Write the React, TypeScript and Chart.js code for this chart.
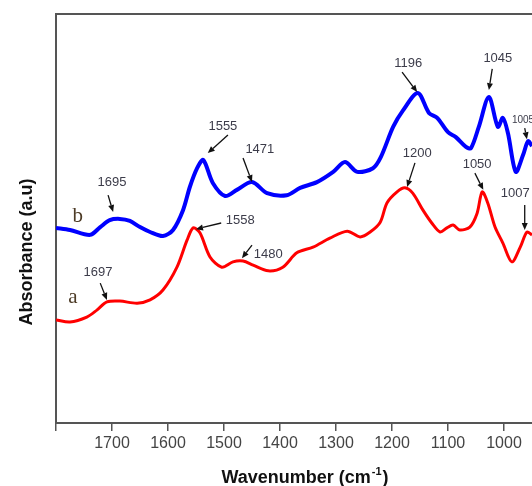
import React, { useEffect, useRef } from "react";
import { Chart, registerables } from "chart.js";

Chart.register(...registerables);

// Curve b (blue)
const curveBWavenumber = [1800, 1775, 1739, 1721, 1704, 1686, 1668, 1650, 1632, 1609, 1591, 1573, 1561, 1548, 1537, 1520, 1498, 1477, 1450, 1423, 1388, 1364, 1334, 1305, 1284, 1262, 1234, 1220, 1198, 1180, 1154, 1134, 1121, 1116, 1100, 1086, 1068, 1059, 1045, 1027, 1011, 1002, 993, 979, 966, 957, 950];
const curveBAbsorbance = [47.7, 47.2, 46.0, 47.9, 49.6, 49.9, 49.4, 47.9, 46.7, 45.7, 47.2, 52.1, 57.7, 62.3, 64.3, 58.7, 55.5, 57.0, 58.9, 56.2, 55.7, 57.5, 58.9, 61.4, 63.8, 61.4, 62.3, 65.0, 72.4, 76.5, 80.7, 75.8, 74.8, 74.1, 71.1, 69.9, 67.5, 67.2, 72.4, 79.7, 72.4, 74.6, 70.9, 61.4, 65.5, 68.9, 67.7];

// Curve a (red)
const curveAWavenumber = [1800, 1775, 1745, 1727, 1709, 1686, 1655, 1632, 1609, 1584, 1566, 1555, 1543, 1525, 1504, 1484, 1466, 1448, 1421, 1395, 1370, 1341, 1311, 1280, 1257, 1239, 1221, 1209, 1191, 1177, 1163, 1145, 1129, 1114, 1102, 1091, 1079, 1061, 1048, 1039, 1029, 1016, 1002, 986, 971, 959, 950];
const curveAAbsorbance = [25.2, 24.7, 25.9, 27.6, 29.6, 29.8, 29.3, 30.1, 32.5, 38.1, 44.7, 47.7, 46.5, 40.6, 38.1, 39.4, 39.6, 38.6, 37.2, 38.1, 41.6, 43.0, 45.2, 46.9, 45.5, 46.7, 49.1, 53.8, 56.5, 57.5, 56.2, 52.1, 48.9, 46.7, 47.7, 48.4, 47.2, 47.9, 51.3, 56.5, 53.8, 47.9, 44.0, 39.4, 43.0, 46.7, 46.0];

const xTickValues = [1000, 1100, 1200, 1300, 1400, 1500, 1600, 1700, 1800];
const xTickLabelsHidden = [1800];

// Peak annotations (data coordinates: wavenumber, absorbance)
const peakLabels = ["1695", "1555", "1471", "1196", "1045", "1005", "1697", "1558", "1480", "1200", "1050", "1007"];
const peakLabelX = [1700, 1502, 1436, 1171, 1011, 966, 1725, 1471, 1421, 1155, 1048, 980];
const peakLabelY = [58.7, 72.6, 67.0, 87.8, 89.2, 74.1, 36.7, 49.6, 41.3, 66.0, 63.1, 56.2];
const arrowFromX = [1707, 1493, 1466, 1182, 1021, 963, 1721, 1505, 1450, 1159, 1052, 963];
const arrowFromY = [55.7, 70.4, 64.8, 85.8, 86.6, 72.1, 34.2, 48.9, 43.5, 63.6, 61.1, 53.3];
const arrowToX = [1698, 1529, 1450, 1155, 1027, 959, 1709, 1550, 1468, 1173, 1037, 963];
const arrowToY = [51.6, 66.0, 58.9, 80.9, 81.4, 69.4, 30.1, 47.4, 40.3, 57.7, 57.0, 47.2];
const peakLabelSize = [13, 13, 13, 13, 13, 10, 13, 13, 13, 13, 13, 13];

const seriesNames = ["b", "a"];
const seriesNameX = [1761, 1770];
const seriesNameY = [50.4, 30.6];

const SANS = "'Liberation Sans', Arial, sans-serif";

function drawArrow(ctx: CanvasRenderingContext2D, x1: number, y1: number, x2: number, y2: number) {
  const ang = Math.atan2(y2 - y1, x2 - x1);
  const head = 7;
  const half = 3;
  const bx = x2 - head * Math.cos(ang);
  const by = y2 - head * Math.sin(ang);
  ctx.beginPath();
  ctx.moveTo(x1, y1);
  ctx.lineTo(bx, by);
  ctx.stroke();
  ctx.beginPath();
  ctx.moveTo(x2, y2);
  ctx.lineTo(bx + half * Math.sin(ang), by - half * Math.cos(ang));
  ctx.lineTo(bx - half * Math.sin(ang), by + half * Math.cos(ang));
  ctx.closePath();
  ctx.fill();
}

const overlayPlugin = {
  id: "overlay",
  beforeDraw(chart: any) {
    const ctx = chart.ctx;
    ctx.save();
    ctx.fillStyle = "#ffffff";
    ctx.fillRect(0, 0, chart.width, chart.height);
    ctx.restore();
  },
  afterDraw(chart: any) {
    const { ctx, chartArea } = chart;
    const xs = chart.scales.x;
    const ys = chart.scales.y;
    ctx.save();
    // top frame line
    ctx.strokeStyle = "#555";
    ctx.lineWidth = 2;
    ctx.beginPath();
    ctx.moveTo(chartArea.left - 1, chartArea.top);
    ctx.lineTo(chartArea.right, chartArea.top);
    ctx.stroke();

    // peak labels & arrows
    ctx.strokeStyle = "#111";
    ctx.fillStyle = "#111";
    ctx.lineWidth = 1.3;
    for (let i = 0; i < peakLabels.length; i++) {
      drawArrow(
        ctx,
        xs.getPixelForValue(arrowFromX[i]),
        ys.getPixelForValue(arrowFromY[i]),
        xs.getPixelForValue(arrowToX[i]),
        ys.getPixelForValue(arrowToY[i])
      );
    }
    ctx.fillStyle = "#3c3c4a";
    ctx.textAlign = "center";
    ctx.textBaseline = "middle";
    for (let i = 0; i < peakLabels.length; i++) {
      ctx.font = `${peakLabelSize[i]}px ${SANS}`;
      ctx.fillText(peakLabels[i], xs.getPixelForValue(peakLabelX[i]), ys.getPixelForValue(peakLabelY[i]));
    }

    // series names
    ctx.fillStyle = "#4d3b26";
    ctx.font = "21px 'Liberation Serif', 'Times New Roman', serif";
    for (let i = 0; i < seriesNames.length; i++) {
      ctx.fillText(seriesNames[i], xs.getPixelForValue(seriesNameX[i]), ys.getPixelForValue(seriesNameY[i]));
    }

    // y title
    ctx.save();
    ctx.translate(27, 252);
    ctx.rotate(-Math.PI / 2);
    ctx.fillStyle = "#111";
    ctx.font = `bold 18px ${SANS}`;
    ctx.textAlign = "center";
    ctx.textBaseline = "middle";
    ctx.fillText("Absorbance (a.u)", 0, 0);
    ctx.restore();

    // x title with superscript
    const main = "Wavenumber (cm";
    const sup = "-1";
    const tail = ")";
    ctx.fillStyle = "#111";
    ctx.textBaseline = "alphabetic";
    ctx.textAlign = "left";
    ctx.font = `bold 18px ${SANS}`;
    const wMain = ctx.measureText(main).width;
    const wTail = ctx.measureText(tail).width;
    ctx.font = `bold 11px ${SANS}`;
    const wSup = ctx.measureText(sup).width;
    const total = wMain + wSup + 2 + wTail;
    const x0 = 305 - total / 2;
    const base = 483;
    ctx.font = `bold 18px ${SANS}`;
    ctx.fillText(main, x0, base);
    ctx.font = `bold 11px ${SANS}`;
    ctx.fillText(sup, x0 + wMain + 1, base - 8);
    ctx.font = `bold 18px ${SANS}`;
    ctx.fillText(tail, x0 + wMain + wSup + 2, base);
    ctx.restore();
  },
};

export default function App() {
  const canvasRef = useRef<HTMLCanvasElement | null>(null);

  useEffect(() => {
    const canvas = canvasRef.current;
    if (!canvas) return;
    const chart = new Chart(canvas, {
      type: "line",
      data: {
        datasets: [
          {
            label: "b",
            data: curveBWavenumber.map((w, i) => ({ x: w, y: curveBAbsorbance[i] })),
            borderColor: "#0000ff",
            borderWidth: 4,
            pointRadius: 0,
            tension: 0.3,
            fill: false,
          },
          {
            label: "a",
            data: curveAWavenumber.map((w, i) => ({ x: w, y: curveAAbsorbance[i] })),
            borderColor: "#ff0000",
            borderWidth: 3,
            pointRadius: 0,
            tension: 0.3,
            fill: false,
          },
        ],
      },
      options: {
        animation: false,
        responsive: false,
        maintainAspectRatio: false,
        layout: { padding: { top: 14, right: 0, left: 0, bottom: 0 } },
        plugins: { legend: { display: false }, tooltip: { enabled: false } },
        scales: {
          x: {
            type: "linear",
            min: 950,
            max: 1800,
            reverse: true,
            afterFit: (s: any) => {
              s.height = 63;
            },
            afterBuildTicks: (s: any) => {
              s.ticks = xTickValues.map((v) => ({ value: v }));
            },
            border: { display: true, color: "#555", width: 2 },
            grid: { display: true, drawOnChartArea: false, drawTicks: true, tickLength: 8, color: "#555", lineWidth: 1.5 },
            ticks: {
              font: { size: 16, family: SANS },
              color: "#444",
              padding: 3,
              maxRotation: 0,
              autoSkip: false,
              callback: (v: any) => (xTickLabelsHidden.includes(Number(v)) ? "" : String(v)),
            },
          },
          y: {
            type: "linear",
            min: 0,
            max: 100,
            afterFit: (s: any) => {
              s.width = 56;
            },
            border: { display: true, color: "#555", width: 2 },
            grid: { display: false },
            ticks: { display: false },
          },
        },
      },
      plugins: [overlayPlugin],
    } as any);
    return () => chart.destroy();
  }, []);

  return (
    <div style={{ position: "fixed", left: 0, top: 0, width: 532, height: 486, background: "#fff" }}>
      <canvas ref={canvasRef} width={532} height={486} style={{ display: "block" }} />
    </div>
  );
}
